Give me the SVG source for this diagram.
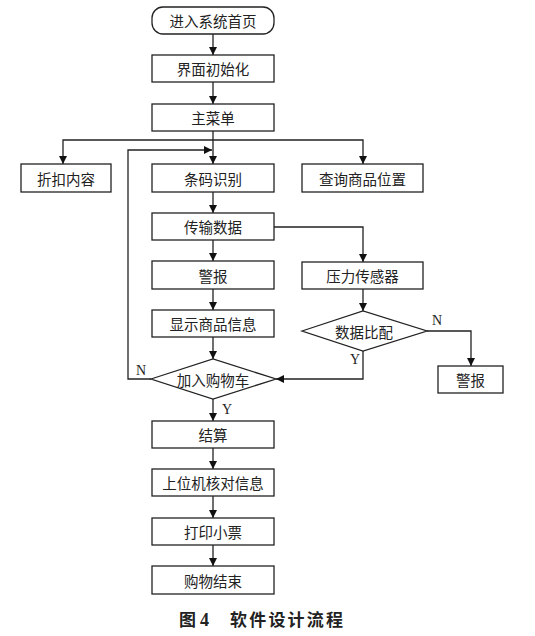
<svg xmlns="http://www.w3.org/2000/svg" width="535" height="636" viewBox="0 0 535 636">
<style>
.b{fill:#fff;stroke:#222;stroke-width:1.3}
.t{font-family:"Noto Sans CJK SC","Noto Sans",sans-serif;font-size:14.5px;fill:#222;text-anchor:middle;dominant-baseline:central}
.l{font-family:"Liberation Serif",serif;font-size:14px;fill:#222}
.c{fill:none;stroke:#222;stroke-width:1.3}
.cap{font-family:"Noto Sans CJK SC",sans-serif;font-size:17px;font-weight:bold;fill:#222}
</style>
<defs>
<marker id="ah" viewBox="0 0 10 10" refX="10" refY="5" markerWidth="8" markerHeight="8" markerUnits="userSpaceOnUse" orient="auto">
<path d="M0,0 L10,5 L0,10 z" fill="#111"/>
</marker>
</defs>
<rect width="535" height="636" fill="#fff"/>
<g id="connectors" class="c" marker-end="url(#ah)">
<path d="M213,34 V55"/>
<path d="M213,82 V104"/>
<path d="M213,131 V164"/>
<path d="M213,140 H63 V164"/>
<path d="M213,140 H363 V164"/>
<path d="M213,192 V213"/>
<path d="M213,240 V261"/>
<path d="M213,289 V310"/>
<path d="M213,337 V359"/>
<path d="M213,399 V421"/>
<path d="M213,448 V469"/>
<path d="M213,496 V518"/>
<path d="M213,545 V566"/>
<path d="M151,379 H128 V150 H212"/>
<path d="M273,227 H363 V262"/>
<path d="M363,289 V311"/>
<path d="M427,331 H471 V366"/>
<path d="M363,351 V379 H276"/>
</g>
<g id="n-start"><rect class="b" x="152" y="7" width="122" height="27" rx="11"/><text class="t" x="213" y="20.5">进入系统首页</text></g>
<g id="n-init"><rect class="b" x="152" y="55" width="122" height="27"/><text class="t" x="213" y="68.5">界面初始化</text></g>
<g id="n-menu"><rect class="b" x="152" y="104" width="122" height="27"/><text class="t" x="213" y="117.5">主菜单</text></g>
<g id="n-discount"><rect class="b" x="21" y="164" width="90" height="28"/><text class="t" x="66" y="178">折扣内容</text></g>
<g id="n-barcode"><rect class="b" x="152" y="164" width="122" height="28"/><text class="t" x="213" y="178">条码识别</text></g>
<g id="n-query"><rect class="b" x="302" y="164" width="121" height="28"/><text class="t" x="362.5" y="178">查询商品位置</text></g>
<g id="n-transfer"><rect class="b" x="152" y="213" width="122" height="27"/><text class="t" x="213" y="226.5">传输数据</text></g>
<g id="n-alarm1"><rect class="b" x="152" y="261" width="122" height="28"/><text class="t" x="213" y="275">警报</text></g>
<g id="n-show"><rect class="b" x="152" y="310" width="122" height="27"/><text class="t" x="213" y="323.5">显示商品信息</text></g>
<g id="n-cart"><polygon class="b" points="151,379 213,359 276,379 213,399"/><text class="t" x="213" y="379">加入购物车</text></g>
<g id="n-sensor"><rect class="b" x="302" y="262" width="121" height="27"/><text class="t" x="362.5" y="275.5">压力传感器</text></g>
<g id="n-match"><polygon class="b" points="302,331 363,311 427,331 363,351"/><text class="t" x="364" y="331">数据比配</text></g>
<g id="n-alarm2"><rect class="b" x="438" y="366" width="65" height="27"/><text class="t" x="470.5" y="379.5">警报</text></g>
<g id="n-settle"><rect class="b" x="152" y="421" width="122" height="27"/><text class="t" x="213" y="434.5">结算</text></g>
<g id="n-verify"><rect class="b" x="152" y="469" width="122" height="27"/><text class="t" x="213" y="482.5">上位机核对信息</text></g>
<g id="n-print"><rect class="b" x="152" y="518" width="122" height="27"/><text class="t" x="213" y="531.5">打印小票</text></g>
<g id="n-end"><rect class="b" x="152" y="566" width="122" height="28"/><text class="t" x="213" y="580">购物结束</text></g>
<g id="labels">
<text class="l" x="136" y="375">N</text>
<text class="l" x="222" y="414">Y</text>
<text class="l" x="350" y="364">Y</text>
<text class="l" x="432" y="325">N</text>
</g>
<text class="cap" x="179" y="626">图<tspan x="200" font-family="Liberation Serif" font-size="18">4</tspan><tspan x="230" letter-spacing="2.2">软件设计流程</tspan></text>
</svg>
